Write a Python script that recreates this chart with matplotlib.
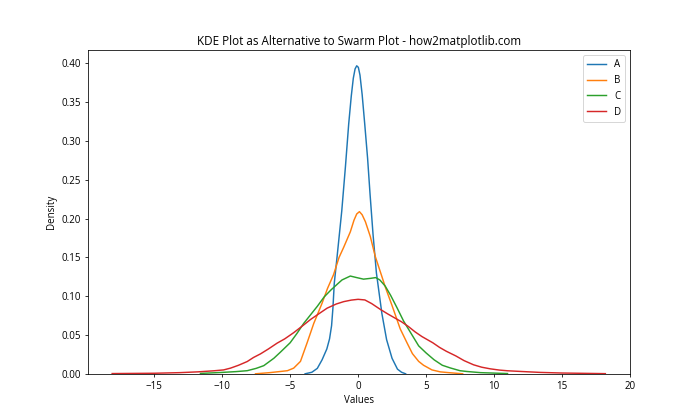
import matplotlib
matplotlib.use("Agg")
import matplotlib.pyplot as plt

plt.rcParams['font.family'] = ['Open Sans', 'DejaVu Sans']

labels = ["A", "B", "C", "D"]
colors = ["#1f77b4", "#ff7f0e", "#2ca02c", "#d62728"]

A_x = [-3.9, -3.4, -3.0, -2.65, -2.3, -2.1, -1.95, -1.85, -1.75, -1.55, -1.2, -0.93, -0.69,
       -0.5, -0.35, -0.22, -0.1, 0.02, 0.14, 0.3, 0.49, 0.7, 0.88, 1.1, 1.35, 1.75, 2.1, 2.5,
       2.9, 3.2, 3.5]
A_y = [0.000, 0.002, 0.007, 0.018, 0.032, 0.045, 0.062, 0.085, 0.117, 0.150, 0.210, 0.267, 0.322,
       0.358, 0.381, 0.393, 0.397, 0.395, 0.385, 0.360, 0.322, 0.278, 0.232, 0.180, 0.130, 0.078,
       0.044, 0.020, 0.006, 0.002, 0.000]

B_x = [-7.55, -6.5, -5.71, -5.2, -4.74, -4.24, -3.75, -3.26, -3.0, -2.65, -2.25, -1.8, -1.4,
       -1.06, -0.57, -0.3, -0.1, 0.1, 0.3, 0.54, 0.9, 1.27, 1.76, 2.0, 2.5, 3.1, 3.6, 4.0, 4.46,
       4.82, 5.44, 6.05, 6.66, 7.7]
B_y = [0.000, 0.0015, 0.003, 0.004, 0.0073, 0.016, 0.040, 0.065, 0.076, 0.091, 0.110, 0.128, 0.150,
       0.163, 0.183, 0.198, 0.206, 0.209, 0.205, 0.196, 0.177, 0.151, 0.125, 0.112, 0.088, 0.058,
       0.040, 0.026, 0.016, 0.011, 0.005, 0.0025, 0.0015, 0.000]

C_x = [-11.6, -10.1, -9.0, -8.16, -7.5, -6.94, -6.2, -5.71, -5.0, -4.5, -4.0, -3.5, -3.0, -2.5,
       -2.0, -1.5, -1.18, -0.57, -0.1, 0.4, 0.9, 1.3, 1.6, 2.0, 2.4, 2.87, 3.35, 3.8, 4.46, 5.0,
       5.6, 6.2, 6.8, 7.5, 8.0, 9.0, 11.0]
C_y = [0.0005, 0.0017, 0.0028, 0.004, 0.007, 0.0105, 0.020, 0.028, 0.040, 0.052, 0.065, 0.076,
       0.087, 0.099, 0.108, 0.116, 0.121, 0.126, 0.124, 0.122, 0.123, 0.124, 0.121, 0.113, 0.101,
       0.085, 0.068, 0.055, 0.036, 0.027, 0.018, 0.011, 0.0075, 0.004, 0.003, 0.0015, 0.0003]

D_x = [-18.1, -15.0, -13.1, -11.8, -10.6, -9.9, -9.39, -8.8, -8.16, -7.7, -7.18, -6.6, -5.96,
       -5.4, -4.74, -4.0, -3.5, -3.0, -2.28, -1.6, -1.06, -0.5, 0.0, 0.5, 1.0, 1.64, 2.2, 2.7,
       3.2, 3.7, 4.2, 4.7, 5.1, 5.5, 6.0, 6.5, 7.2, 7.8, 8.5, 9.1, 9.73, 10.4, 11.0, 12.0, 13.4,
       15.0, 18.2]
D_y = [0.0003, 0.0007, 0.0015, 0.0025, 0.0039, 0.005, 0.0073, 0.011, 0.0158, 0.021, 0.0257,
       0.032, 0.0395, 0.045, 0.053, 0.063, 0.070, 0.076, 0.0846, 0.090, 0.093, 0.095, 0.096,
       0.0952, 0.0905, 0.083, 0.077, 0.072, 0.067, 0.061, 0.054, 0.048, 0.044, 0.040, 0.034,
       0.029, 0.023, 0.017, 0.0116, 0.0085, 0.0064, 0.0048, 0.0039, 0.003, 0.0018, 0.001, 0.0002]

series_x = [A_x, B_x, C_x, D_x]
series_y = [A_y, B_y, C_y, D_y]

fig, ax = plt.subplots(figsize=(10, 6), dpi=70)
for xs, ys, lab, col in zip(series_x, series_y, labels, colors):
    ax.plot(xs, ys, color=col, label=lab, linewidth=1.5)

ax.set_ylim(0, None)
ax.set_title("KDE Plot as Alternative to Swarm Plot - how2matplotlib.com")
ax.set_xlabel("Values")
ax.set_ylabel("Density")
ax.legend(loc="upper right")
fig.savefig("out.png", dpi=70)
